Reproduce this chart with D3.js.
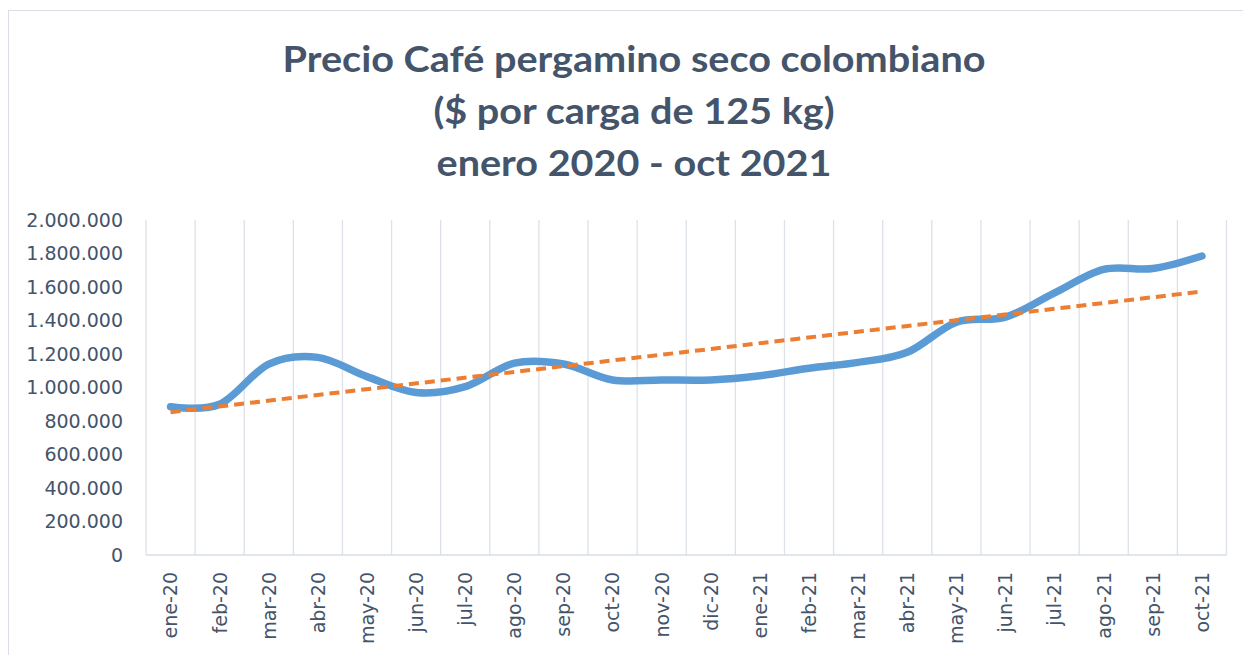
<!DOCTYPE html>
<meta charset="utf-8">
<style>
  body { margin: 0; background: #fff; }
  .title { font-family: Lato, "Open Sans", sans-serif; font-weight: bold; fill: #44546a; }
  .tick-label { font-family: "DejaVu Sans", sans-serif; font-size: 19px; fill: #44546a; }
</style>
<script src="https://d3js.org/d3.v7.min.js"></script>
<div id="chart"></div>
<script>

// months (x categories)
var months = ["ene-20", "feb-20", "mar-20", "abr-20", "may-20", "jun-20", "jul-20", "ago-20",
  "sep-20", "oct-20", "nov-20", "dic-20", "ene-21", "feb-21", "mar-21", "abr-21",
  "may-21", "jun-21", "jul-21", "ago-21", "sep-21", "oct-21"];

// price per 125 kg load
var prices = [885000, 900000, 1140000, 1180000, 1065000, 970000, 1005000, 1145000,
  1140000, 1045000, 1045000, 1045000, 1070000, 1115000, 1150000, 1210000,
  1390000, 1420000, 1565000, 1705000, 1710000, 1785000];

var yTicks = [0, 200000, 400000, 600000, 800000, 1000000, 1200000, 1400000, 1600000, 1800000, 2000000];

var titleLines = ["Precio Café pergamino seco colombiano", "($ por carga de 125 kg)", "enero 2020 - oct 2021"];

var W = 1243, H = 655;
var margin = {top: 220, left: 146, right: 16.5, bottom: 100};
var width = W - margin.left - margin.right,
    height = H - margin.top - margin.bottom;

var svg = d3.select("#chart").append("svg")
  .attr("width", W)
  .attr("height", H);

// chart frame
svg.append("rect")
  .attr("x", 8.5).attr("y", 10.5)
  .attr("width", W + 20).attr("height", H + 20)
  .attr("fill", "none")
  .attr("stroke", "#d9dee7");

// title (slightly stretched, like the original)
svg.append("g").selectAll("text")
  .data(titleLines)
  .enter().append("text")
    .attr("class", "title")
    .attr("transform", function(d, i) { return "translate(634," + (72 + i * 52) + ") scale(1.1,1)"; })
    .attr("text-anchor", "middle")
    .style("font-size", "36px")
    .text(function(d) { return d; });

var g = svg.append("g")
  .attr("transform", "translate(" + margin.left + "," + margin.top + ")");

var x = d3.scaleBand()
  .domain(months)
  .range([0, width]);

var y = d3.scaleLinear()
  .domain([0, 2000000])
  .range([height, 0]);

// vertical gridlines on the category boundaries
var bounds = d3.range(months.length + 1).map(function(i) { return i * x.step(); });
g.append("g").selectAll("line")
  .data(bounds)
  .enter().append("line")
    .attr("x1", function(d) { return d; })
    .attr("x2", function(d) { return d; })
    .attr("y1", 0)
    .attr("y2", height)
    .attr("stroke", "#dde1e9")
    .attr("stroke-width", 1.3);

// bottom axis line
g.append("line")
  .attr("x1", 0).attr("x2", width)
  .attr("y1", height).attr("y2", height)
  .attr("stroke", "#d9dee7")
  .attr("stroke-width", 1.5);

// y axis labels
var fmt = function(v) { return d3.format(",")(v).replace(/,/g, "."); };
g.append("g").selectAll("text")
  .data(yTicks)
  .enter().append("text")
    .attr("class", "tick-label")
    .attr("x", -23)
    .attr("y", function(d) { return y(d); })
    .attr("dy", "0.36em")
    .attr("text-anchor", "end")
    .text(fmt);

// x axis labels, rotated
g.append("g").selectAll("text")
  .data(months)
  .enter().append("text")
    .attr("class", "tick-label")
    .attr("text-anchor", "end")
    .attr("dy", "0.36em")
    .attr("transform", function(d) {
      return "translate(" + (x(d) + x.bandwidth() / 2) + "," + (height + 17) + ") rotate(-90)";
    })
    .text(function(d) { return d; });

// linear trend (least squares)
var n = prices.length;
var mx = d3.mean(d3.range(n)), my = d3.mean(prices);
var sxy = d3.sum(prices, function(v, i) { return (i - mx) * (v - my); });
var sxx = d3.sum(d3.range(n), function(i) { return (i - mx) * (i - mx); });
var slope = sxy / sxx, icpt = my - slope * mx;

var cx = function(i) { return x(months[i]) + x.bandwidth() / 2; };

// price line
var line = d3.line()
  .x(function(d, i) { return cx(i); })
  .y(function(d) { return y(d); })
  .curve(d3.curveCardinal.tension(0));

g.append("path")
  .datum(prices)
  .attr("d", line)
  .attr("fill", "none")
  .attr("stroke", "#5b9bd5")
  .attr("stroke-width", 7.5)
  .attr("stroke-linecap", "round")
  .attr("stroke-linejoin", "round");

g.append("line")
  .attr("x1", cx(0)).attr("y1", y(icpt))
  .attr("x2", cx(n - 1)).attr("y2", y(icpt + slope * (n - 1)))
  .attr("stroke", "#ed7d31")
  .attr("stroke-width", 4)
  .attr("stroke-dasharray", "10,6");

</script>
